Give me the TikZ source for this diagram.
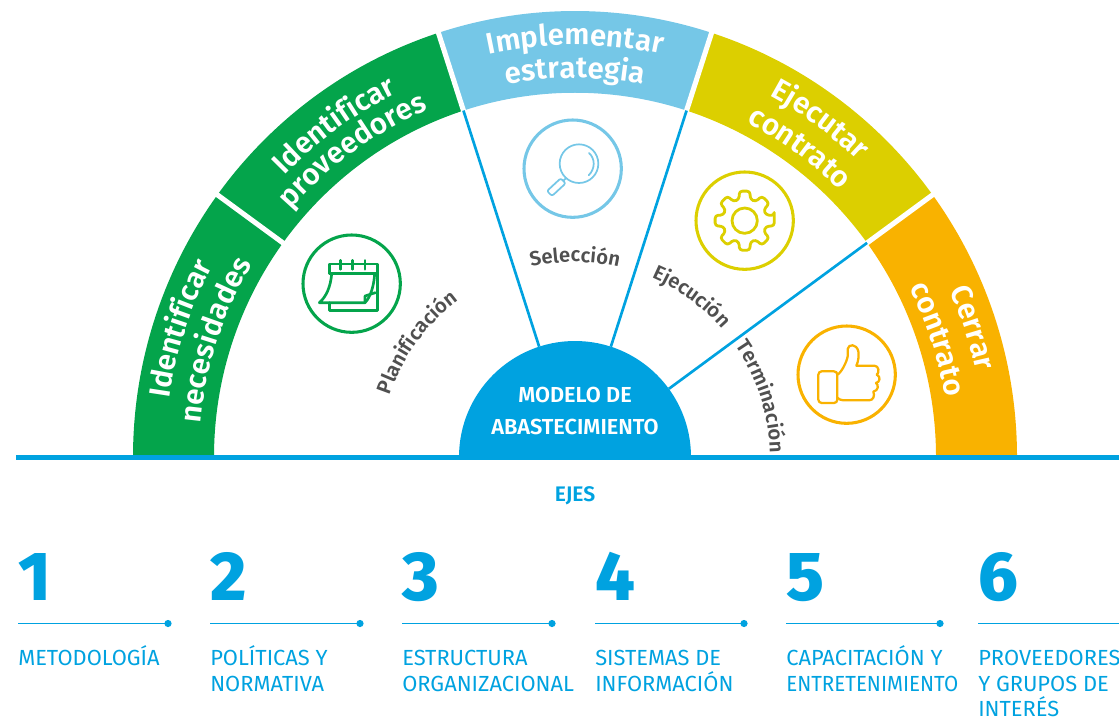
\documentclass[tikz,border=0pt]{standalone}
\usepackage{fontspec}
\setmainfont{Fira Sans}
\newfontfamily\fsemi{Fira Sans SemiBold}
\newfontfamily\fxb{Fira Sans ExtraBold}
\usetikzlibrary{decorations.text}
\definecolor{cgreen}{HTML}{04A44B}
\definecolor{csky}{HTML}{75C7E7}
\definecolor{cyel}{HTML}{DCCF00}
\definecolor{corg}{HTML}{F9B200}
\definecolor{cblue}{HTML}{00A2E0}
\definecolor{cgrey}{HTML}{505050}
\tikzset{
  ring/.style={fill=#1},
  iconring/.style={draw=#1,line width=2.3pt,fill=none},
  iconline/.style={draw=#1,line width=1.7pt,line join=round,line cap=round,fill=none},
  spoke/.style={draw=cblue,line width=2pt},
  gapline/.style={draw=white,line width=3.8pt},
  item/.style={anchor=north west,inner sep=0pt,align=left,text=cblue,font=\fontsize{16.4}{19.4}\selectfont},
  numb/.style={anchor=base west,inner sep=0pt,text=cblue,font=\fontsize{52}{52}\fxb},
  icon/.style={shift={(#1)},x=.25pt,y=-.25pt},
}
\newcommand\arcbig[3]{% angle, radius, text
  \path[decorate,decoration={text along path,text align=center,
    text={|\fontsize{22.2}{26}\fsemi\color{white}|#3}}]
    (#1+34:#2) arc[start angle=#1+34,end angle=#1-34,radius=#2];}
\newcommand\arcsmall[3]{% angle, radius, text
  \path[decorate,decoration={text along path,text align=center,
    text={|\fontsize{15.2}{16}\fsemi\color{cgrey}|#3}}]
    (#1+30:#2) arc[start angle=#1+30,end angle=#1-30,radius=#2];}
\begin{document}
\begin{tikzpicture}[x=.75pt,y=.75pt]
\useasboundingbox (0,0) rectangle (1119,719);
\begin{scope}[shift={(575,262)}]
  \begin{scope}[yscale=1.009]
  % sectors
  \fill[ring=cgreen] (180:442) arc[start angle=180,end angle=108,radius=442] -- (108:361) arc[start angle=108,end angle=180,radius=361] -- cycle;
  \fill[ring=csky] (108:442) arc[start angle=108,end angle=72,radius=442] -- (72:361) arc[start angle=72,end angle=108,radius=361] -- cycle;
  \fill[ring=cyel] (72:442) arc[start angle=72,end angle=36,radius=442] -- (36:361) arc[start angle=36,end angle=72,radius=361] -- cycle;
  \fill[ring=corg] (36:442) arc[start angle=36,end angle=0,radius=442] -- (0:361) arc[start angle=0,end angle=36,radius=361] -- cycle;
  \foreach \a in {144,108,72,36} \draw[gapline] (\a:359) -- (\a:446);
  \coordinate (r108) at (108:361);
  \coordinate (r72) at (72:361);
  \coordinate (r36) at (36:361);
  \end{scope}
  % hub and spokes
  \coordinate (h108) at (108:116);
  \coordinate (h72) at (72:116);
  \coordinate (h36) at (36:116);
  \draw[spoke] (h108) -- (r108);
  \draw[spoke] (h72) -- (r72);
  \draw[spoke] (h36) -- (r36);
  \fill[cblue] (180:116) arc[start angle=180,end angle=0,radius=116] -- cycle;
  \node[inner sep=0pt,text=white,font=\fontsize{16.3}{24}\fsemi,align=center] (hub) at (0,46) {MODELO DE\\ABASTECIMIENTO};
  % ring labels
  \arcbig{162}{410}{Identificar}
  \arcbig{162}{376}{necesidades}
  \arcbig{126}{405}{Identificar}
  \arcbig{126}{377}{proveedores}
  \arcbig{90}{412}{Implementar}
  \arcbig{90}{379}{estrategia}
  \arcbig{54}{410}{Ejecutar}
  \arcbig{54}{376}{contrato}
  \arcbig{18}{410}{Cerrar}
  \arcbig{18}{375}{contrato}
  % phase labels
  \arcsmall{144}{195}{Planificación}
  \arcsmall{90}{195}{Selección}
  \arcsmall{54}{195}{Ejecución}
  \arcsmall{18}{195}{Terminación}
\end{scope}
% base line
\coordinate (b0) at (16,261.5); \coordinate (b1) at (1119,261.5);
\draw[draw=cblue,line width=3.6pt] (b0) -- (b1);
\node[inner sep=0pt,text=cblue,font=\fontsize{15.8}{16}\fsemi] (ejes) at (575,223.5) {EJES};
% axes
\foreach \x/\e/\n/\t in {18/168/1/{METODOLOGÍA},210/360/2/{POLÍTICAS Y\\NORMATIVA},402/552/3/{ESTRUCTURA\\ORGANIZACIONAL},595/744/4/{SISTEMAS DE\\INFORMACIÓN},786/940/5/{CAPACITACIÓN Y\\\scalebox{0.94}[1]{ENTRETENIMIENTO}},978/1125/6/{PROVEEDORES\\Y GRUPOS DE\\INTERÉS}}{
  \node[numb] (n\n) at (\x,119) {\n};
  \coordinate (la\n) at (\x,95.5); \coordinate (lb\n) at (\e,95.5);
  \draw[draw=cblue,line width=1.4pt] (la\n) -- (lb\n);
  \fill[cblue] (lb\n) circle[radius=3.6];
  \node[item] (t\n) at (\x,74) {\vphantom{Í}\t};
}
% calendar icon
\begin{scope}[icon={300,487}]
  \draw[iconring=cgreen] (155,155) circle[radius=146];
  \draw[iconline=cgreen,line width=2pt] (88,125) -- (88,96) -- (232,96) -- (232,235) -- (88,235) -- (88,212);
  \draw[iconline=cgreen,line width=2pt] (92,125) -- (232,125);
  \foreach \q in {122,158,195} \draw[iconline=cgreen,line width=2pt] (\q,85) -- (\q,112);
  \draw[iconline=cgreen,line width=2pt] (95,125) .. controls (92,165) and (78,195) .. (58,212) -- (195,212) .. controls (212,195) and (222,160) .. (224,125);
  \draw[iconline=cgreen,line width=2pt] (195,212) -- (195,192) -- (226,182);
\end{scope}
% magnifier icon
\begin{scope}[icon={520,602}]
  \draw[iconring=csky] (158,155) circle[radius=146];
  \draw[iconline=csky,line width=1.3pt] (177,140) circle[radius=58];
  \draw[iconline=csky,line width=1.3pt] (207,108) .. controls (226,125) and (226,155) .. (206,175);
  \draw[iconline=csky,line width=1.3pt] (138,184) -- (131,190);
  \draw[iconline=csky,line width=1.3pt,rounded corners=1.5pt] (122,184) -- (81,222) -- (96,237) -- (137,199) -- cycle;
\end{scope}
% gear icon
\begin{scope}[icon={693,550}]
  \draw[iconring=cyel] (155,155) circle[radius=146];
  \draw[iconline=cyel,line width=2.1pt] (155,155) circle[radius=38];
  \begin{scope}[shift={(155,155)}]
  \draw[iconline=cyel,line width=2.1pt,rounded corners=2.2pt] (-10:90)
    \foreach \a in {0,45,...,315} { -- (\a-10:90) -- (\a+10:90) -- (\a+15:66) -- (\a+30:66)} -- cycle;
  \end{scope}
\end{scope}
% thumb icon
\begin{scope}[icon={795,396}]
  \draw[iconring=corg] (155,155) circle[radius=146];
  \draw[iconline=corg,rounded corners=2.5pt] (70,145) -- (127,145) -- (127,240) -- (70,240) -- cycle;
  \draw[iconline=corg] (127,155) .. controls (138,150) and (155,118) .. (158,100) -- (158,78) .. controls (160,62) and (185,62) .. (190,85) .. controls (192,100) and (190,115) .. (184,128) -- (238,128) .. controls (252,128) and (254,150) .. (245,155) .. controls (258,160) and (255,178) .. (243,180) .. controls (252,186) and (250,203) .. (235,206) .. controls (240,218) and (235,232) .. (222,232) -- (145,232) .. controls (138,232) and (130,228) .. (127,224);
\end{scope}
\end{tikzpicture}
\end{document}
